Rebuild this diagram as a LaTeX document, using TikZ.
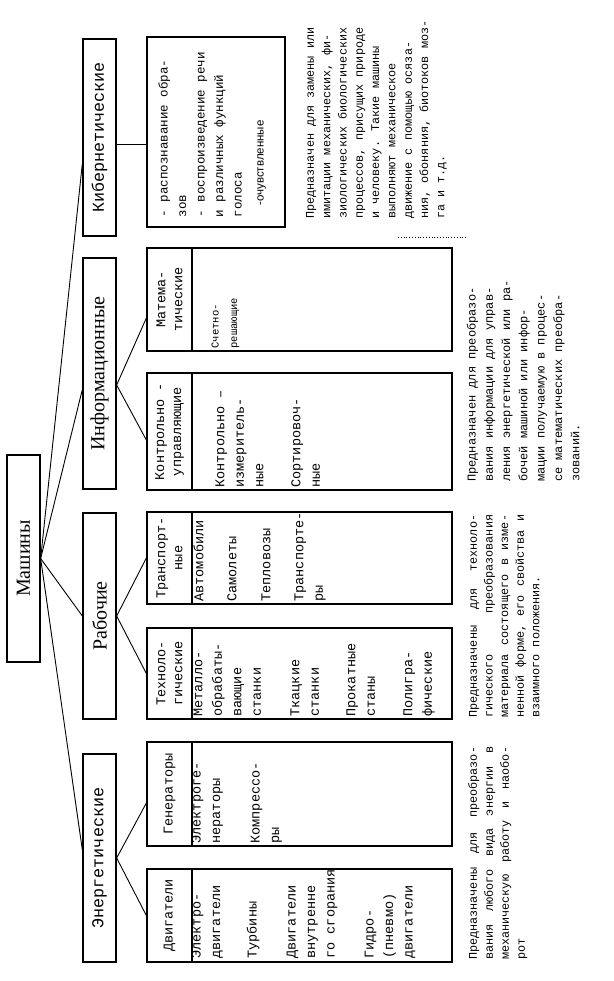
\documentclass[tikz,border=0pt]{standalone}
\usepackage{fontspec}
\setmainfont{Liberation Serif}
\newfontfamily\courfont{Liberation Mono}
\newfontfamily\arialfont{Liberation Sans}
\usetikzlibrary{calc}
\newcommand{\hdrfont}{\courfont\fontsize{13.5}{17}\selectfont}
\newcommand{\bodyfont}{\courfont\fontsize{13.5}{19.5}\selectfont}
\newcommand{\descfont}{\courfont\fontsize{11.8}{16.3}\selectfont}
\newcommand{\justfont}{\courfont\fontsize{11.8}{15.6}\selectfont
  \fontdimen3\font=6pt\fontdimen4\font=1pt}
\newcommand{\justfontb}{\courfont\fontsize{11.8}{16}\selectfont
  \fontdimen3\font=6pt\fontdimen4\font=1pt}
\tikzset{
  lvl/.style  ={draw,line width=1.3pt,rotate=90,inner sep=0pt,minimum height=33},
  hdr/.style  ={draw,line width=1.3pt,rotate=90,inner sep=0pt,minimum height=45,
                align=center,font=\hdrfont},
  body/.style ={draw,line width=1.3pt,rotate=90,inner sep=0pt,minimum height=260},
  items/.style={rotate=90,anchor=north west,align=left,font=\bodyfont,inner xsep=3pt},
  desc/.style ={rotate=90,anchor=north west,align=left,font=\descfont,inner sep=0pt},
  jdesc/.style={rotate=90,anchor=north west,align=justify,font=\justfont,inner sep=0pt},
  link/.style ={line width=0.9pt},
}
\begin{document}
\begin{tikzpicture}[x=1pt,y=-1pt]
\useasboundingbox (0,0) rectangle (613,981);
% ---- root and the four classes
\node[lvl,minimum width=207,font=\fontsize{20}{24}\selectfont] (mach) at (23.5,558.5) {Машины};
\node[lvl,minimum width=197,font=\courfont\fontsize{16.7}{20}\selectfont] (kib) at (99.5,137.5) {Кибернетические};
\node[lvl,minimum width=231,font=\fontsize{20}{24}\selectfont] (inf) at (99.5,373.5) {Информационные};
\node[lvl,minimum width=206,font=\fontsize{20}{24}\selectfont] (rab) at (99.5,616) {Рабочие};
\node[lvl,minimum width=208,font=\courfont\fontsize{16.7}{20}\selectfont] (en) at (99.5,858) {Энергетические};

% ---- kinds (header | list)
\node[draw,line width=1.3pt,rotate=90,inner sep=0pt,minimum width=190,minimum height=138] (kb) at (216,132) {};
\node[items,font=\courfont\fontsize{12.5}{18.5}\selectfont,inner xsep=10pt,inner ysep=12pt] (tkb) at (kb.north west)
 {- распознавание обра-\\
  зов\\
  - воспроизведение речи\\
  и различных функций\\
  голоса\\[3.5pt]
  \hspace*{12pt}{\arialfont\fontsize{11.5}{18.5}\selectfont-очувствленные}};

\node[hdr,minimum width=103] (hmat) at (169.5,299.5) {Матема-\\тические};
\node[body,minimum width=103] (bmat) at (322,299.5) {};
\node[items,font=\courfont\fontsize{10.5}{18.5}\selectfont,inner ysep=20pt] (tmat) at (bmat.north west)
 {Счетно-\\решающие};

\node[hdr,minimum width=117] (hkon) at (169.5,431.5) {Контрольно -\\управляющие};
\node[body,minimum width=117] (bkon) at (322,431.5) {};
\node[items,inner ysep=24pt] (tkon) at (bkon.north west)
 {Контрольно –\\измеритель-\\ные\\[17.5pt]Сортировоч-\\ные};

\node[hdr,minimum width=92] (htra) at (169.5,558) {Транспорт-\\ные};
\node[body,minimum width=92] (btra) at (322,558) {};
\node[items,inner ysep=2pt] (ttra) at (btra.north west)
 {Автомобили\\[13.5pt]Самолеты\\[14.5pt]Тепловозы\\[13.5pt]Транспорте-\\ры};

\node[hdr,minimum width=91] (hteh) at (169.5,673.5) {Техноло-\\гические};
\node[body,minimum width=91] (bteh) at (322,673.5) {};
\node[items,inner ysep=2pt] (tteh) at (bteh.north west)
 {Металло-\\обрабаты-\\вающие\\станки\\[19pt]Ткацкие\\станки\\[17pt]Прокатные\\станы\\[18pt]Полигра-\\фические};

\node[hdr,minimum width=104] (hgen) at (169.5,794) {Генераторы};
\node[body,minimum width=104] (bgen) at (322,794) {};
\node[items,inner ysep=0pt] (tgen) at (bgen.north west)
 {Электроге-\\нераторы\\[20pt]Компрессо-\\ры};

\node[hdr,minimum width=93] (hdvi) at (169.5,915.5) {Двигатели};
\node[body,minimum width=93] (bdvi) at (322,915.5) {};
\node[items,inner ysep=0pt,inner xsep=4pt] (tdvi) at (bdvi.north west)
 {Электро-\\двигатели\\[17pt]Турбины\\[19.5pt]Двигатели\\внутренне\\го сгорания\\[19.5pt]Гидро-\\(пневмо)\\двигатели};

% ---- what each class is for
\node[desc] (dkib) at (306,219)
 {Предназначен для замены или\\
  имитации механических, фи-\\
  зиологических биологических\\
  процессов, присущих природе\\
  и человеку. Такие машины\\
  выполняют механическое\\
  движение с помощью осяза-\\
  ния, обоняния, биотоков моз-\\
  га и т.д.};
\draw[dotted,line width=0.8pt] (398,237) -- (468,237);
\node[desc,font=\courfont\fontsize{12}{17.3}\selectfont] (dinf) at (466.5,482)
 {Предназначен для преобразо-\\
  вания информации для управ-\\
  ления энергетической или ра-\\
  бочей машиной или инфор-\\
  мации получаемую в процес-\\
  се математических преобра-\\
  зований.};
\node[jdesc,text width=203] (drab) at (469,718)
 {Предназначены для техноло-\linebreak
  гического преобразования\linebreak
  материала состоящего в изме-\linebreak
  ненной форме, его свойства и\linebreak
  взаимного положения.};
\node[jdesc,text width=213,font=\justfontb] (den) at (468,960)
 {Предназначены для преобразо-\linebreak
  вания любого вида энергии в\linebreak
  механическую работу и наобо-\linebreak
  рот};

% ---- links
\draw[link] (mach.south) -- ($(kib.north)+(0,26)$);
\draw[link] (mach.south) -- ($(inf.north)+(0,16)$);
\draw[link] (mach.south) -- (rab.north);
\draw[link] (mach.south) -- ($(en.north)+(0,-8)$);
\draw[link] ($(kib.south)+(0,6.5)$) -- ($(kb.north)+(0,12)$);
\draw[link] ($(inf.south)+(0,11.5)$) -- ($(hmat.north)+(0,18.5)$);
\draw[link] ($(inf.south)+(0,11.5)$) -- ($(hkon.north)+(0,8.5)$);
\draw[link] ($(en.south)$) -- ($(hgen.north)+(0,9)$);
\foreach \a/\b in {rab/htra, rab/hteh, en/hdvi} \draw[link] (\a.south) -- (\b.north);
\end{tikzpicture}
\end{document}
